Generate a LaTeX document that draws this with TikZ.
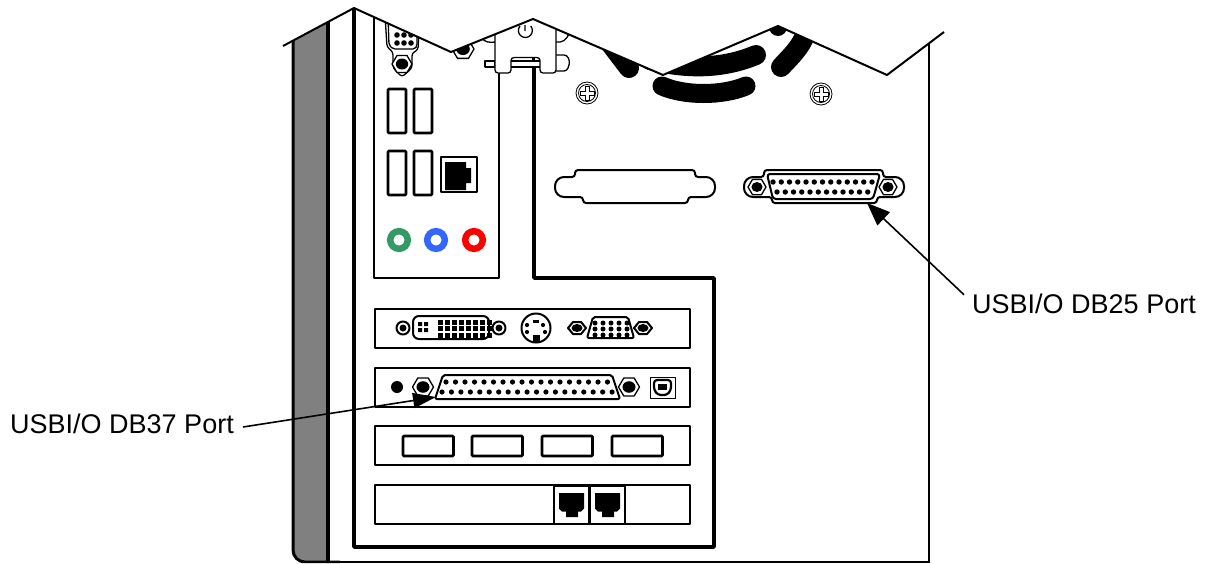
\documentclass[tikz,border=0pt]{standalone}
\usepackage{fontspec}
\setmainfont{Liberation Sans}
\usetikzlibrary{arrows.meta, positioning}
\definecolor{cgreen}{HTML}{339966}
\definecolor{cblue}{HTML}{3366FF}
\definecolor{cred}{HTML}{FF0000}
\definecolor{cgray}{HTML}{808080}
\tikzset{
  thinline/.style={draw=black, line width=1.3pt, line join=round},
  midline/.style={draw=black, line width=2pt, line join=round},
  heavyline/.style={draw=black, line width=3.4pt, line join=round},
  ptrline/.style={line width=1.6pt, -{Triangle[length=23pt, width=18pt]}},
  labeltext/.style={font=\fontsize{27}{32}\selectfont, inner sep=0pt}
}
\newcommand{\hexnut}[3]{% x, y, half width
  \draw[thinline, fill=white, shift={(#1,#2)}, xscale=#3/10, yscale=#3/10]
    (-10,0) -- (-5,-8.5) -- (5,-8.5) -- (10,0) -- (5,8.5) -- (-5,8.5) -- cycle;
  \fill[shift={(#1,#2)}] (0,0) ellipse ({#3*0.62} and {#3*0.55});
}

\begin{document}
\begin{tikzpicture}[x=1pt, y=-1pt]
  \useasboundingbox (0,0) rectangle (1210,563);

  \begin{scope}
    \clip (283,46) -- (354,8) -- (451,52) -- (533,19) -- (663,75) -- (778,26) -- (887,75) -- (944,32) -- (944,563) -- (283,563) -- cycle;

    % Side panel
    \fill[cgray, rounded corners=12pt] (293,20) -- (293,562) -- (328,562) -- (328,20) -- cycle;
    \fill[cgray] (310,20) rectangle (328,562);
    \draw[line width=3pt, rounded corners=12pt] (293,20) -- (293,562) -- (340,562);
    \draw[line width=4pt] (328,20) -- (328,562);
    \draw[line width=2.6pt] (320,562) -- (929,562) -- (929,20);

    % Inner frame
    \draw[heavyline] (354,0) -- (354,547) -- (714,547) -- (714,278) -- (534,278) -- (534,67);
    \draw[midline] (374,0) -- (374,278) -- (499,278) -- (499,70);

    % Fan blades
    \draw[line width=20pt, line cap=round] (600,30) -- (629,68);
    \draw[line width=20pt, line cap=round] (756,55) .. controls (725,68) and (690,70) .. (650,60);
    \draw[line width=19pt, line cap=round] (662,86) .. controls (685,96) and (722,96) .. (746,86);
    \fill (778,27) circle (9);
    \draw[line width=20pt, line cap=round] (781,67) .. controls (795,52) and (803,45) .. (808,26);

    % Mounting screws
    \foreach \sx/\sy in {587/93, 821/94}{
      \draw[line width=0.8pt] (\sx,\sy) circle (11);
      \draw[line width=0.8pt] (\sx,\sy) circle (8.5);
      \draw[line width=1pt, shift={(\sx,\sy)}] (-2,-7) -- (2,-7) -- (2,-2) -- (7,-2) -- (7,2) -- (2,2) -- (2,7) -- (-2,7) -- (-2,2) -- (-7,2) -- (-7,-2) -- (-2,-2) -- cycle;
    }

    % Bracket
    \draw[thinline, fill=white] (482,38) .. controls (484,42) and (490,43) .. (495,42);
    \draw[thinline, fill=white] (556,42) .. controls (562,43) and (567,40) .. (569,33);
    \draw[thinline, fill=white, rounded corners=3pt] (556,55) -- (567,55) -- (570,62) -- (567,71) -- (556,71);
    \draw[thinline, fill=white] (485,61) rectangle (495,67);
    \draw[thinline, fill=white, rounded corners=3pt] (495,30) -- (495,73) -- (511,73) -- (511,57.5) -- (540,57.5) -- (540,73) -- (556,73) -- (556,30);
    \draw[thinline] (511,61) -- (540,61);
    \draw[midline] (511,67) -- (540,67);
    \fill (532,57.5) rectangle (535,61);
    \draw[thinline] (525,25) -- (525,31) (520,26) arc (220:-40:7);
    \draw[heavyline] (534,67) -- (534,74);

    % Serial port behind the cover
    \draw[thinline, fill=white, rounded corners=3pt] (385,15) -- (387,47) -- (393,52) -- (393,68) -- (402,77) -- (412,68) -- (412,53) -- (418,50) -- (419,30);
    \draw[thinline, rounded corners=2pt] (388,15) -- (389,45) -- (393,49) -- (415,49) -- (417,46) -- (417,30);
    \foreach \px in {397,404,411}{
      \foreach \py in {35,43}{
        \fill (\px,\py) circle (2.8);
      }
    }
    \hexnut{402}{64}{10}
    \hexnut{463}{49}{11}
  \end{scope}

  % Outline of the cut-away
  \draw[midline] (283,46) -- (354,8) -- (451,52) -- (533,19) -- (663,75) -- (778,26) -- (887,75) -- (944,32);

  % USB ports
  \foreach \ux in {388,414}{
    \foreach \uy in {89,151}{
      \draw[midline, line width=2.8pt, rounded corners=1pt] (\ux,\uy) rectangle ++(18,44);
    }
  }

  % Network port on the panel
  \draw[midline] (441,157) rectangle (477,192);
  \fill (445,162) -- (466,162) -- (466,168) -- (471,168) -- (471,183) -- (466,183) -- (466,190) -- (445,190) -- cycle;

  % Audio jacks
  \foreach \jx/\jc in {399/cgreen, 436/cblue, 474/cred}{
    \draw[\jc, line width=6.5pt] (\jx,240) circle (8.8);
  }

  % Blank cover
  \draw[midline, rounded corners=3pt] (575,177) -- (575,170) -- (695,170) -- (695,177) [rounded corners=9pt] -- (715,177) -- (715,197) [rounded corners=3pt] -- (688,197) -- (688,203) -- (583,203) -- (583,197) [rounded corners=9pt] -- (555,197) -- (555,177) [rounded corners=3pt] -- cycle;

  % DB25 connector
  \draw[midline, rounded corners=3pt] (764,177) -- (764,170) -- (883,170) -- (883,177) [rounded corners=9pt] -- (904,177) -- (904,197) [rounded corners=3pt] -- (877,197) -- (877,203) -- (772,203) -- (772,197) [rounded corners=9pt] -- (744,197) -- (744,177) [rounded corners=3pt] -- cycle;
  \draw[midline, rounded corners=3pt] (767,174) -- (880,174) -- (873,199) -- (773,199) -- cycle;
  \foreach \c in {0,...,12}{
    \fill ({773+\c*8.25},182) circle (2.7);
  }
  \foreach \c in {0,...,11}{
    \fill ({777+\c*8.25},192) circle (2.7);
  }
  \hexnut{757}{187}{9}
  \hexnut{888}{187}{9}

  % Cards
  \foreach \cy in {309,368,426,485}{
    \draw[midline] (375,\cy) rectangle ++(315,39);
  }

  % First card
  \foreach \dx in {403,499}{
    \draw[midline] (\dx,328) circle (6.5);
    \fill (\dx,328) circle (3.5);
  }
  \draw[midline, rounded corners=6pt] (413,316) rectangle (489,339);
  \foreach \c in {0,...,7}{
    \foreach \r in {0,1,2}{
      \fill ({437.5+\c*7},{319.5+\r*6.5}) rectangle ++(5,5);
    }
  }
  \fill (418,322) rectangle ++(4,4) (424,322) rectangle ++(4,4) (418,328) rectangle ++(4,4) (424,328) rectangle ++(4,4);
  \draw[midline] (536,328) circle (14.5);
  \fill (533,320) rectangle ++(6,3);
  \fill (532.5,335) rectangle ++(7,7);
  \foreach \hx/\hy in {527/325, 543/325, 527/332, 545/332}{
    \fill (\hx,\hy) circle (2.1);
  }
  \foreach \hx in {577,643}{
    \draw[midline, shift={(\hx,328)}] (-9,0) -- (-4,-6) -- (4,-6) -- (9,0) -- (4,6) -- (-4,6) -- cycle;
    \fill (\hx,328) ellipse (5.5 and 4);
  }
  \draw[midline, rounded corners=2pt] (593,317) -- (628,317) -- (634,338) -- (587,338) -- cycle;
  \foreach \c in {0,...,4}{
    \foreach \r in {0,1,2}{
      \fill ({595+\c*8},{323+\r*6}) circle (2.5);
    }
  }

  % Second card
  \fill (397,387) circle (6);
  \hexnut{423}{387}{10.5}
  \hexnut{629}{387}{10.5}
  \draw[midline, rounded corners=2pt] (443,375) -- (612,375) -- (620,399) -- (435,399) -- cycle;
  \foreach \c in {0,...,17}{
    \fill ({446+\c*9.5},382) circle (2.6);
  }
  \foreach \c in {0,...,18}{
    \fill ({442+\c*9.45},392) circle (2.6);
  }
  \draw[thinline, line width=0.9pt] (650,377) rectangle (675,398);
  \draw[midline, line width=2.2pt, rounded corners=3pt] (654,380) -- (671,380) -- (671,390) -- (667,395) -- (658,395) -- (654,390) -- cycle;
  \fill (658,383.5) rectangle (667,390);

  % Third card
  \foreach \sx in {403,472,542,612}{
    \draw[midline, line width=2.8pt, rounded corners=1pt] (\sx,436) rectangle ++(50.5,20);
  }

  % Fourth card
  \foreach \rx in {554,590}{
    \draw[midline, fill=white] (\rx,485.5) rectangle ++(35,38);
    \fill[shift={(\rx,485.5)}] (5,7.5) -- (30,7.5) -- (30,23) -- (27,26) -- (24,26) -- (24,31.5) -- (12,31.5) -- (12,26) -- (8,26) -- (5,23) -- cycle;
  }

  % Labels
  \node[labeltext, anchor=base west] (lab25) at (972,313) {USBI/O DB25 Port};
  \node[labeltext, anchor=base west] (lab37) at (10,433) {USBI/O DB37 Port};
  \coordinate (tip25) at (867,203);
  \coordinate (tip37) at (436,397);
  \draw[ptrline] ([xshift=-8pt,yshift=-1.5pt]lab25.north west) -- (tip25);
  \draw[ptrline, {-Triangle[length=23pt, width=15pt]}] ([xshift=9pt,yshift=6pt]lab37.base east) -- (tip37);
\end{tikzpicture}
\end{document}
